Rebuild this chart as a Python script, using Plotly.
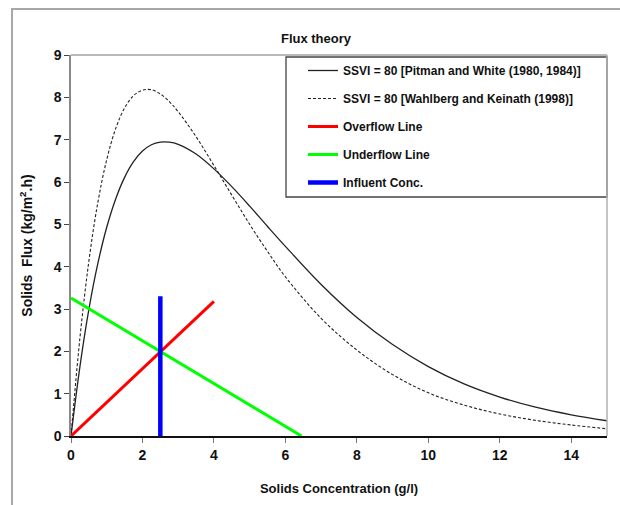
import plotly.graph_objects as go

# ---- data ----
conc = [0, 0.25, 0.5, 0.75, 1, 1.25, 1.5, 1.75, 2, 2.25, 2.5, 2.75, 3, 3.5, 4, 4.5,
        5, 5.5, 6, 7, 8, 9, 10, 11, 12, 13, 14, 15]
flux_pitman = [0, 1.64, 2.99, 4.07, 4.93, 5.60, 6.11, 6.48, 6.73, 6.88, 6.94, 6.94, 6.89,
               6.66, 6.31, 5.89, 5.43, 4.95, 4.48, 3.58, 2.80, 2.16, 1.64, 1.23, 0.92,
               0.68, 0.50, 0.36]
flux_wahlberg = [0, 2.32, 4.13, 5.51, 6.53, 7.26, 7.75, 8.04, 8.17, 8.18, 8.08, 7.90, 7.66,
                 7.07, 6.39, 5.69, 5.00, 4.36, 3.76, 2.78, 2.03, 1.45, 1.02, 0.73, 0.52,
                 0.37, 0.26, 0.17]

overflow_x = [0, 4.0]
overflow_y = [0, 3.18]
underflow_x = [0, 6.45]
underflow_y = [3.26, 0]
influent_x = [2.5, 2.5]
influent_y = [0, 3.3]

x_ticks = [0, 2, 4, 6, 8, 10, 12, 14]
y_ticks = [0, 1, 2, 3, 4, 5, 6, 7, 8, 9]

names = [
    "SSVI = 80 [Pitman and White (1980, 1984)]",
    "SSVI = 80 [Wahlberg and Keinath (1998)]",
    "Overflow Line",
    "Underflow Line",
    "Influent Conc.",
]

FONT = "Liberation Sans, Arial, sans-serif"

fig = go.Figure()
fig.add_trace(go.Scatter(x=conc, y=flux_pitman, mode="lines", name=names[0],
                         line=dict(color="#222222", width=1.3, shape="spline"),
                         legendgroup="a"))
fig.add_trace(go.Scatter(x=conc, y=flux_wahlberg, mode="lines", name=names[1],
                         line=dict(color="#222222", width=1.1, dash="3px,2px", shape="spline"),
                         legendgroup="b"))
fig.add_trace(go.Scatter(x=overflow_x, y=overflow_y, mode="lines", name=names[2],
                         line=dict(color="#ff0000", width=3), legendgroup="c"))
fig.add_trace(go.Scatter(x=underflow_x, y=underflow_y, mode="lines", name=names[3],
                         line=dict(color="#00ff00", width=3), legendgroup="d"))
fig.add_trace(go.Scatter(x=influent_x, y=influent_y, mode="lines", name=names[4],
                         line=dict(color="#0000ff", width=4.5), legendgroup="e"))

# plot area: left 71, right 607, top 55, bottom 436 (px)
W, H = 620, 505
L, R, T, B = 71, 607, 55, 436
pw, ph = R - L, B - T

def px_x(p):
    return (p - L) / pw

def px_y(p):
    return (B - p) / ph

shapes = [
    # outer frame (left and top)
    dict(type="line", xref="paper", yref="paper", x0=px_x(12), x1=px_x(12), y0=px_y(9), y1=px_y(520),
         line=dict(color="#a8a8a8", width=2)),
    dict(type="line", xref="paper", yref="paper", x0=px_x(11), x1=px_x(640), y0=px_y(9), y1=px_y(9),
         line=dict(color="#a8a8a8", width=2)),
    # plot area top and right border
    dict(type="line", xref="paper", yref="paper", x0=0, x1=1, y0=1, y1=1,
         line=dict(color="#a0a0a0", width=1.5)),
    dict(type="line", xref="paper", yref="paper", x0=1, x1=1, y0=0, y1=1,
         line=dict(color="#b0b0b0", width=1.5)),
    # legend box
    dict(type="rect", xref="paper", yref="paper", x0=px_x(286), x1=px_x(607), y0=px_y(197), y1=px_y(57),
         line=dict(color="#444444", width=1.3), fillcolor="white", layer="below"),
]

fig.update_layout(
    width=W, height=H,
    margin=dict(l=L, r=W - R, t=T, b=H - B, autoexpand=False),
    paper_bgcolor="white", plot_bgcolor="white",
    font=dict(family=FONT, color="#111111", size=13),
    title=dict(text="<b>Flux theory</b>", x=316 / W, xref="container", xanchor="center",
               y=1 - 38 / H, yref="container", yanchor="middle",
               font=dict(family=FONT, size=13, color="#111111")),
    showlegend=True,
    legend=dict(x=px_x(303), xanchor="left", y=px_y(56), yanchor="top",
                bgcolor="rgba(0,0,0,0)", borderwidth=0,
                font=dict(family=FONT, size=12, color="#111111", weight="bold"),
                tracegroupgap=9, itemwidth=30),
    shapes=shapes,
)

fig.update_xaxes(range=[0, 15], tickvals=x_ticks, ticktext=[str(v) for v in x_ticks],
                 showgrid=False, zeroline=False, showline=True, linecolor="#111111", linewidth=1.5,
                 ticks="outside", ticklen=5, tickcolor="#777777", tickwidth=1,
                 tickfont=dict(family=FONT, size=14, color="#111111", weight="bold"),
                 title=dict(text="<b>Solids Concentration (g/l)</b>", standoff=22,
                            font=dict(family=FONT, size=13, color="#111111")))
fig.update_yaxes(range=[0, 9], tickvals=y_ticks, ticktext=[str(v) for v in y_ticks],
                 showgrid=False, zeroline=False, showline=True, linecolor="#888888", linewidth=1.5,
                 ticks="outside", ticklen=5, tickcolor="#444444", tickwidth=1,
                 tickfont=dict(family=FONT, size=14, color="#111111", weight="bold"),
                 title=dict(text="<b>Solids&nbsp; Flux (kg/m<sup>2</sup>.h)</b>", standoff=18,
                            font=dict(family=FONT, size=14, color="#111111")))

fig.write_html("out.html", config={"displayModeBar": False},
               post_script="document.body.style.margin='0';document.body.style.overflow='hidden';")
